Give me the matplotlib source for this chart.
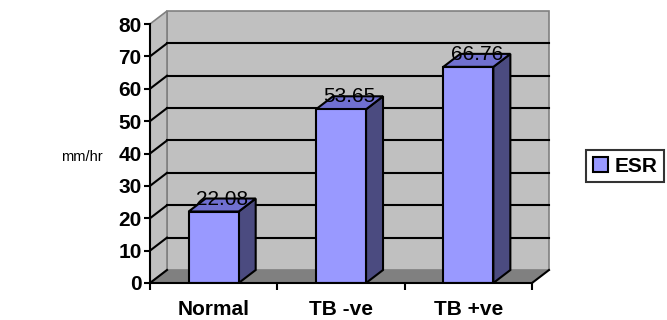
import matplotlib.pyplot as plt
from matplotlib.patches import Polygon

plt.rcParams['font.family'] = ['Liberation Sans', 'DejaVu Sans']

categories = ['Normal', 'TB -ve', 'TB +ve']
esr = [22.08, 53.65, 66.76]
yticks = [0, 10, 20, 30, 40, 50, 60, 70, 80]
series_name = 'ESR'
unit_label = 'mm/hr'

FACE = '#9999FF'
TOP = '#7070D0'
SIDE = '#4B4B80'
WALL = '#C0C0C0'
FLOOR = '#808080'

W, H = 667, 320
fig = plt.figure(figsize=(W / 100, H / 100), dpi=100)
ax = fig.add_axes([150 / W, (H - 283) / H, 382 / W, 259 / H])

n = len(categories)
x0, x1 = -0.5, n - 0.5
ymax = yticks[-1]
ax.set_xlim(x0, x1)
ax.set_ylim(0, ymax)
ax.patch.set_visible(False)

# depth of the fake 3d box, in data units
dx = 17 / (382 / n)
dy = 13 / (259 / ymax)

def poly(pts, fc, ec='black', lw=1.2, z=1):
    p = Polygon(pts, closed=True, facecolor=fc, edgecolor=ec, linewidth=lw,
                zorder=z, clip_on=False, joinstyle='miter')
    ax.add_patch(p)

# walls and floor
poly([(x0 + dx, dy), (x1 + dx, dy), (x1 + dx, ymax + dy), (x0 + dx, ymax + dy)], WALL, '#808080', 1.2, 0)
poly([(x0, 0), (x0 + dx, dy), (x0 + dx, ymax + dy), (x0, ymax)], WALL, '#808080', 1.2, 0)
poly([(x0, 0), (x1, 0), (x1 + dx, dy), (x0 + dx, dy)], FLOOR, 'none', 0, 1)
ax.plot([x1, x1 + dx], [0, dy], color='black', lw=1.5, zorder=2, clip_on=False)
ax.plot([x0, x0 + dx], [0, dy], color='black', lw=1.5, zorder=2, clip_on=False)

# gridlines on back and left wall
for v in yticks[1:-1]:
    ax.plot([x0 + dx, x1 + dx], [v + dy, v + dy], color='black', lw=1.5, zorder=1, clip_on=False)
    ax.plot([x0, x0 + dx], [v, v + dy], color='black', lw=1.5, zorder=1, clip_on=False)

# bars
bw = 0.393
bars = ax.bar(range(n), esr, width=bw, color=FACE, edgecolor='black', linewidth=1.5,
              zorder=4, label=series_name)
for i, v in enumerate(esr):
    l, r = i - bw / 2, i + bw / 2
    poly([(r, 0), (r + dx, dy), (r + dx, v + dy), (r, v)], SIDE, 'black', 1.5, 3)
    poly([(l, v), (r, v), (r + dx, v + dy), (l + dx, v + dy)], TOP, 'black', 1.5, 3)
    ax.text(i + dx / 2, v + dy * 0.95, f'{v:.2f}', ha='center', va='center',
            fontsize=15, color='black', zorder=6)

# axes
for s in ['top', 'right']:
    ax.spines[s].set_visible(False)
for s in ['left', 'bottom']:
    ax.spines[s].set_linewidth(1.5)
    ax.spines[s].set_zorder(5)
ax.set_yticks(yticks)
ax.set_yticklabels([str(t) for t in yticks], fontsize=15, fontweight='bold')
ax.tick_params(axis='y', length=4, width=1.5, pad=2)
ax.set_xticks(range(n))
ax.set_xticklabels(categories, fontsize=15, fontweight='bold')
ax.set_xticks([x0 + k for k in range(n + 1)], minor=True)
ax.tick_params(axis='x', which='major', length=0, pad=12)
ax.tick_params(axis='x', which='minor', length=5, width=1.5)

fig.text(82 / W, 1 - 157 / H, unit_label, ha='center', va='center', fontsize=10.5)

leg = fig.legend(handles=[bars], loc='center', bbox_to_anchor=(625 / W, 1 - 166 / H),
                 frameon=True, fancybox=False, edgecolor='black', handlelength=0.75,
                 handleheight=0.75, handletextpad=0.3, borderpad=0.3,
                 prop={'weight': 'bold', 'size': 15})
leg.get_frame().set_linewidth(1.5)

fig.savefig('out.png', dpi=100)
